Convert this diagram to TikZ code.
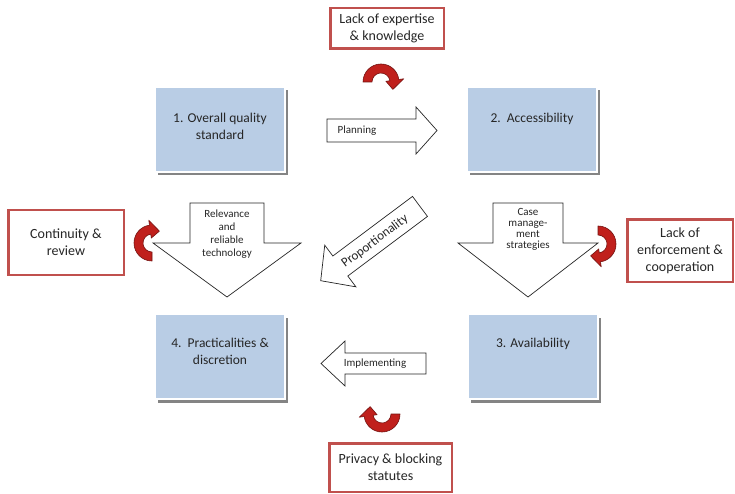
\documentclass[tikz,border=0pt]{standalone}
\usepackage{fontspec}
\setmainfont{Carlito}
\usetikzlibrary{calc,shadows}

\definecolor{boxblue}{RGB}{185,205,229}
\definecolor{redframe}{RGB}{192,80,77}
\definecolor{bendred}{RGB}{192,32,28}
\definecolor{bendedge}{RGB}{115,18,16}
\definecolor{inkgray}{RGB}{38,38,38}

% curved red arrow: centre x, centre y, turn (degrees, clockwise on the page)
\newcommand{\bendarrow}[3]{%
  \begin{scope}[shift={(#1,#2)}]
    \filldraw[bendfill]
      (#3+180:18) arc[start angle=#3+180, end angle=#3+352, radius=18]
      -- (#3+352:23) -- (#3+392:14) -- (#3+352:5) -- (#3+352:9)
      arc[start angle=#3+352, end angle=#3+180, radius=9] -- cycle;
  \end{scope}}

\begin{document}
\begin{tikzpicture}[x=1pt,y=-1pt,
  stage/.style={draw=white, line width=2pt, fill=boxblue,
    minimum width=130pt, minimum height=85pt, inner sep=0pt,
    drop shadow={shadow xshift=3pt, shadow yshift=-3.5pt, fill=black!60, opacity=0.8}},
  stagetext/.style={align=center, inner sep=0pt, text=inkgray,
    font=\fontsize{13.5}{17}\selectfont},
  issue/.style={draw=redframe, line width=2.5pt, fill=white, align=center,
    inner sep=0pt, text=inkgray, font=\fontsize{14}{17}\selectfont},
  blockarrow/.style={draw=black!85, line width=0.7pt, fill=white, line join=miter},
  arrowtext/.style={align=center, inner sep=0pt, text=inkgray,
    font=\fontsize{11}{13}\selectfont},
  bendfill/.style={fill=bendred, draw=bendedge, line width=0.6pt, line join=round}]

\fill[white] (0,0) rectangle (735,494);
\useasboundingbox (0,0) rectangle (735,494);

% ---- the four stages ----
\node[stage] (s1) at (220,129.5) {};
\node[stage] (s2) at (532,129.5) {};
\node[stage] (s3) at (533,356.5) {};
\node[stage] (s4) at (220,356.5) {};
\node[stagetext, anchor=north] (s1t) at ($(s1.north)+(0,27)$) {1. Overall quality\\standard};
\node[stagetext, anchor=north] (s2t) at ($(s2.north)+(0,26.5)$) {2.\ \ Accessibility};
\node[stagetext, anchor=north] (s3t) at ($(s3.north)+(0,25)$) {3. Availability};
\node[stagetext, anchor=north] (s4t) at ($(s4.north)+(0,25)$) {4.\ \ Practicalities \&\\discretion};

% ---- obstacles ----
\node[issue, minimum width=113.5pt, minimum height=40.5pt] (i1) at (387,28.5) {Lack of expertise\\\& knowledge};
\node[issue, minimum width=115.5pt, minimum height=64.5pt] (i2) at (66,242.5) {Continuity \&\\review};
\node[issue, minimum width=105.5pt, minimum height=62.5pt] (i3) at (680,250.5) {Lack of\\enforcement \&\\cooperation};
\node[issue, minimum width=122.5pt, minimum height=48.5pt] (i4) at (390.5,467.5) {Privacy \& blocking\\statutes};

% ---- block arrows between the stages ----
\draw[blockarrow] (327,119) -- (416,119) -- (416,107) -- (437,130.5)
  -- (416,154) -- (416,142) -- (327,142) -- cycle;
\node[arrowtext] (a1) at (357,130.5) {Planning};

\draw[blockarrow] (426,353) -- (345,353) -- (345,341) -- (321,363.5)
  -- (345,386) -- (345,374) -- (426,374) -- cycle;
\node[arrowtext] (a3) at (375,363.5) {Implementing};

\draw[blockarrow] (190,203) -- (264,203) -- (264,243) -- (301,243)
  -- (227,297) -- (153,243) -- (190,243) -- cycle;
\node[arrowtext] (a4) at (227,234.5) {Relevance\\and\\reliable\\technology};

\draw[blockarrow] (493,203) -- (563,203) -- (563,243) -- (598,243)
  -- (528,297) -- (458,243) -- (493,243) -- cycle;
\node[arrowtext, font=\fontsize{11}{11}\selectfont] (a2) at (528,229) {Case\\manage-\\ment\\strategies};

\begin{scope}[shift={(320.7,280.7)}, rotate=36.8]
  \draw[blockarrow] (0,0) -- (24.5,-26) -- (24.5,-12.5) -- (124,-12.5)
    -- (124,12.5) -- (24.5,12.5) -- (24.5,26) -- cycle;
  \node[arrowtext, rotate=36.8, font=\fontsize{13}{15}\selectfont] (a5) at (67,1) {Proportionality};
\end{scope}

% ---- curved red arrows ----
\bendarrow{381}{82}{0}
\bendarrow{152}{243}{-90}
\bendarrow{598}{244}{90}
\bendarrow{382}{414}{180}

\end{tikzpicture}
\end{document}
